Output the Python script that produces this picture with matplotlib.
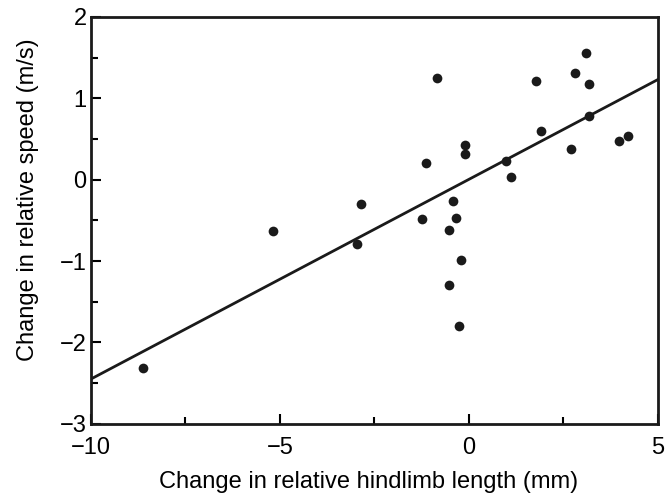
# hindlimb length vs speed scatter with regression line
import numpy as np
import matplotlib
matplotlib.use("Agg")
import matplotlib.pyplot as plt
from matplotlib.ticker import MultipleLocator

plt.rcParams['font.family'] = ['Liberation Sans', 'DejaVu Sans']

# data
limb_change = [-8.62, -5.18, -2.97, -2.86, -0.85, -1.14, -1.23, -0.52, -0.41,
               -0.33, -0.21, -0.52, -0.26, -0.10, -0.11, 0.98, 1.11, 1.77,
               1.90, 2.71, 2.80, 3.10, 3.17, 3.18, 3.98, 4.21]
speed_change = [-2.31, -0.63, -0.79, -0.30, 1.25, 0.21, -0.48, -0.62, -0.26,
                -0.47, -0.99, -1.29, -1.80, 0.43, 0.31, 0.23, 0.03, 1.21,
                0.60, 0.38, 1.31, 1.56, 1.18, 0.78, 0.48, 0.53]

# regression line endpoints
fit_x = [-10, 5]
fit_y = [-2.45, 1.23]

fig = plt.figure(figsize=(6.68, 4.94), dpi=100)
ax = fig.add_axes([0.136, 0.142, 0.849, 0.824])

ax.plot(fit_x, fit_y, color='#1a1a1a', lw=2)
ax.plot(limb_change, speed_change, 'o', color='#1a1a1a', ms=7, mew=0)

ax.set_xlim(-10, 5)
ax.set_ylim(-3, 2)
ax.xaxis.set_major_locator(MultipleLocator(5))
ax.xaxis.set_minor_locator(MultipleLocator(2.5))
ax.yaxis.set_major_locator(MultipleLocator(1))
ax.yaxis.set_minor_locator(MultipleLocator(0.5))
ax.tick_params(which='both', direction='in', width=1.5, labelsize=17)
ax.tick_params(axis='x', pad=9.5)
ax.tick_params(axis='y', pad=3)
ax.tick_params(which='major', length=7)
ax.tick_params(which='minor', length=5)
for s in ax.spines.values():
    s.set_linewidth(2)
    s.set_color('#1a1a1a')

ax.set_xlabel("Change in relative hindlimb length (mm)", fontsize=17,
              labelpad=8.5, x=0.49)
ax.set_ylabel("Change in relative speed (m/s)", fontsize=17, labelpad=15, y=0.55)

fig.savefig("out.png", dpi=100)
